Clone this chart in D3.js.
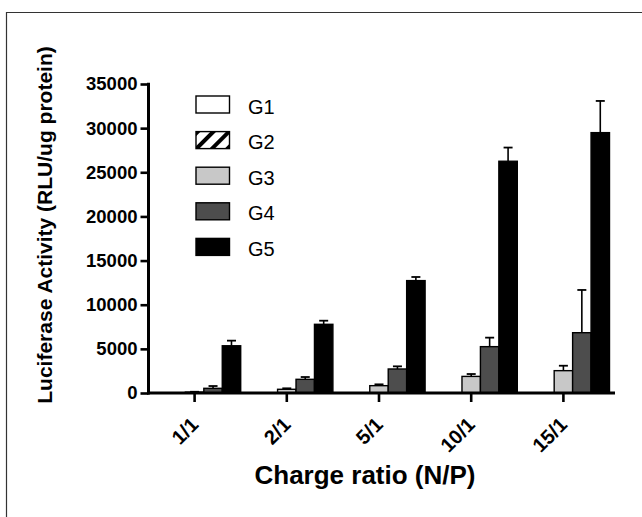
<!DOCTYPE html>
<html>
<head>
<meta charset="utf-8">
<script src="https://cdn.jsdelivr.net/npm/d3@7"></script>
<style>
  html, body { margin: 0; padding: 0; background: #fff; }
  svg { display: block; }
  text { font-family: "Liberation Sans", Arial, sans-serif; }
</style>
</head>
<body>
<svg id="chart" width="642" height="517"></svg>
<script>
// ---- data ----
const categories = ["1/1", "2/1", "5/1", "10/1", "15/1"];
const seriesNames = ["G1", "G2", "G3", "G4", "G5"];
const G1 = [10, 10, 10, 10, 10];
const G2 = [10, 10, 10, 10, 10];
const G3 = [100, 420, 830, 1880, 2530];
const G4 = [530, 1550, 2720, 5250, 6830];
const G5 = [5350, 7780, 12730, 26250, 29490];
const G1err = [0, 0, 0, 0, 0];
const G2err = [0, 0, 0, 0, 0];
const G3err = [40, 110, 150, 270, 560];
const G4err = [260, 260, 300, 1020, 4840];
const G5err = [580, 410, 410, 1550, 3590];
const yTicks = [0, 5000, 10000, 15000, 20000, 25000, 30000, 35000];

const values = [G1, G2, G3, G4, G5];
const errors = [G1err, G2err, G3err, G4err, G5err];
const fills = ["#ffffff", "url(#hatch)", "#c8c8c8", "#4d4d4d", "#000000"];

const svg = d3.select("#chart");

// hatch pattern
const defs = svg.append("defs");
const pat = defs.append("pattern")
  .attr("id", "hatch").attr("patternUnits", "userSpaceOnUse")
  .attr("width", 11).attr("height", 11)
  .attr("patternTransform", "rotate(45)");
pat.append("rect").attr("width", 11).attr("height", 11).attr("fill", "#fff");
pat.append("rect").attr("width", 4).attr("height", 11).attr("fill", "#000");

// frame
svg.append("path").attr("d", "M6.5,517 V12.5 H642")
  .attr("fill", "none").attr("stroke", "#333").attr("stroke-width", 1.2);

const x0 = 148.5;
const x = d3.scaleBand().domain(categories).range([x0, 609.5]).padding(0);
const xi = d3.scaleBand().domain(seriesNames).range([0, x.bandwidth()]).padding(0);
const y = d3.scaleLinear().domain([0, 35000]).range([393, 84]);

// bars
const rows = [];
categories.forEach((c, ci) => {
  seriesNames.forEach((s, si) => {
    rows.push({c, s, si, v: values[si][ci], e: errors[si][ci]});
  });
});

const g = svg.append("g");
// error bars (upper only)
g.selectAll("line.err").data(rows.filter(d => d.e > 0)).enter().append("line")
  .attr("x1", d => x(d.c) + xi(d.s) + xi.bandwidth() / 2)
  .attr("x2", d => x(d.c) + xi(d.s) + xi.bandwidth() / 2)
  .attr("y1", d => y(d.v)).attr("y2", d => y(d.v + d.e))
  .attr("stroke", "#000").attr("stroke-width", 1.6);
g.selectAll("line.cap").data(rows.filter(d => d.e > 0)).enter().append("line")
  .attr("x1", d => x(d.c) + xi(d.s) + xi.bandwidth() / 2 - 4.5)
  .attr("x2", d => x(d.c) + xi(d.s) + xi.bandwidth() / 2 + 4.5)
  .attr("y1", d => y(d.v + d.e)).attr("y2", d => y(d.v + d.e))
  .attr("stroke", "#000").attr("stroke-width", 1.8);

g.selectAll("rect.bar").data(rows).enter().append("rect")
  .attr("x", d => x(d.c) + xi(d.s))
  .attr("width", xi.bandwidth())
  .attr("y", d => y(d.v))
  .attr("height", d => y(0) - y(d.v))
  .attr("fill", d => fills[d.si])
  .attr("stroke", "#000").attr("stroke-width", 1.4);

// y axis
const yAxis = d3.axisLeft(y).tickValues(yTicks).tickSize(8).tickPadding(3).tickFormat(d3.format("d"));
const gy = svg.append("g").attr("transform", `translate(${x0},0)`).call(yAxis);
gy.select(".domain").remove();
gy.selectAll(".tick line").attr("stroke", "#000").attr("stroke-width", 2.6);
gy.selectAll(".tick text").attr("font-size", 18.5).attr("font-weight", "bold").attr("fill", "#000")
  .attr("font-family", "'Liberation Sans', Arial, sans-serif");
svg.append("line").attr("x1", x0).attr("x2", x0).attr("y1", y(35000) - 1.3).attr("y2", y(0) + 1.5)
  .attr("stroke", "#000").attr("stroke-width", 3);

// x axis
const xAxis = d3.axisBottom(x).tickSize(9).tickFormat("");
const gx = svg.append("g").attr("transform", `translate(0,${y(0)})`).call(xAxis);
gx.select(".domain").remove();
gx.selectAll(".tick line").attr("stroke", "#000").attr("stroke-width", 2.6);
svg.append("line").attr("x1", x0 - 1.5).attr("x2", 615).attr("y1", y(0)).attr("y2", y(0))
  .attr("stroke", "#000").attr("stroke-width", 3);

// x tick labels, rotated
svg.selectAll("text.xl").data(categories).enter().append("text")
  .attr("transform", d => `translate(${x(d) + x.bandwidth() / 2 + 5},${426}) rotate(-45)`)
  .attr("text-anchor", "end")
  .attr("font-size", 20).attr("font-weight", "bold").attr("fill", "#000")
  .text(d => d);

// axis titles
svg.append("text").attr("x", 365).attr("y", 484).attr("text-anchor", "middle")
  .attr("font-size", 26).attr("font-weight", "bold").attr("fill", "#000")
  .text("Charge ratio (N/P)");
svg.append("text").attr("transform", "translate(52,225) rotate(-90)").attr("text-anchor", "middle")
  .attr("font-size", 21).attr("font-weight", "bold").attr("fill", "#000")
  .text("Luciferase Activity (RLU/ug protein)");

// legend
const lg = svg.append("g");
seriesNames.forEach((s, i) => {
  const ly = 96 + i * 35.6;
  lg.append("rect").attr("x", 196).attr("y", ly).attr("width", 33.5).attr("height", 17)
    .attr("fill", fills[i]).attr("stroke", "#000").attr("stroke-width", 1.4);
  lg.append("text").attr("x", 248).attr("y", ly + 17.5).attr("font-size", 20).attr("fill", "#000").text(s);
});
</script>
</body>
</html>
